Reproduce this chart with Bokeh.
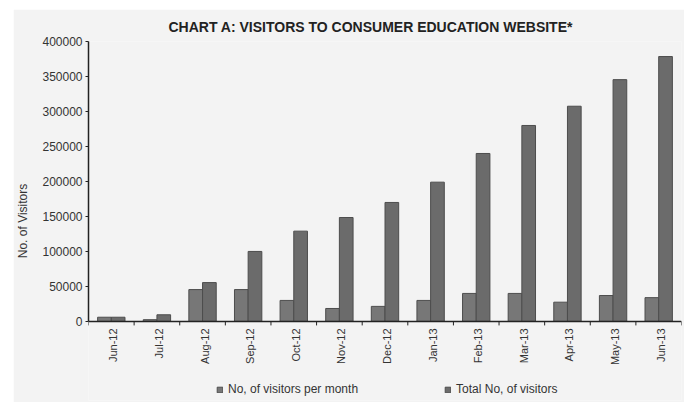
import math
from bokeh.plotting import figure
from bokeh.models import (ColumnDataSource, Range1d, FixedTicker, Legend, LegendItem,
                          NumeralTickFormatter)
from bokeh.core.properties import value
from bokeh.embed import file_html
from bokeh.resources import INLINE

months = ["Jun-12", "Jul-12", "Aug-12", "Sep-12", "Oct-12", "Nov-12", "Dec-12",
          "Jan-13", "Feb-13", "Mar-13", "Apr-13", "May-13", "Jun-13"]
per_month = [6000, 2500, 45500, 45500, 30000, 18500, 21500,
             30000, 40000, 40000, 27500, 37000, 34000]
total = [6000, 9500, 55500, 100000, 129000, 148500, 170000,
         199000, 240000, 280000, 307500, 345500, 378500]
y_ticks = [0, 50000, 100000, 150000, 200000, 250000, 300000, 350000, 400000]

TITLE = "CHART A: VISITORS TO  CONSUMER EDUCATION WEBSITE*"
FONT = "Liberation Sans"
BG = "#f3f3f3"
AX = "#222222"
TXT = "#333333"

n = len(months)
centers = [i + 0.5 for i in range(n)]
edges = list(range(n + 1))
Y_MAX = 400000
Y_MIN = -113000       # room below zero for month labels and legend
TICK = 5700           # boundary tick length in y units (~4px)

src = ColumnDataSource(dict(
    month=months, per_month=per_month, total=total, xc=centers,
    x1=[c - 0.15 for c in centers], x2=[c + 0.15 for c in centers]))
edge_src = ColumnDataSource(dict(x=edges, y0=[0] * len(edges), y1=[-TICK] * len(edges)))

p = figure(x_range=Range1d(0, n), y_range=Range1d(Y_MIN, Y_MAX),
           width=671, height=393, output_backend="svg", toolbar_location=None,
           min_border_left=75, min_border_right=3, min_border_top=32,
           min_border_bottom=2, background_fill_color=BG, border_fill_color=BG,
           outline_line_color=None)
p.margin = (9, 0, 0, 13)

p.title.text = TITLE
p.title.text_font = FONT
p.title.text_font_size = "14px"
p.title.text_font_style = "bold"
p.title.text_color = "#222222"
p.title.align = "left"
p.title.offset = 80
p.title.standoff = 14

r1 = p.vbar(x="x1", top="per_month", bottom=0, width=0.3, source=src,
            fill_color="#777777", line_color="#4d4d4d", line_width=1)
r2 = p.vbar(x="x2", top="total", bottom=0, width=0.3, source=src,
            fill_color="#6b6b6b", line_color="#4d4d4d", line_width=1)

# x axis line at zero, boundary ticks, month labels
p.segment(x0=0, y0=0, x1=n, y1=0, line_color=AX, line_width=1.5)
p.segment(x0="x", y0="y0", x1="x", y1="y1", source=edge_src, line_color=AX, line_width=1)
p.text(x="xc", y=0, text="month", source=src, angle=math.pi / 2, y_offset=7,
       x_offset=2, text_align="right", text_baseline="middle",
       text_font=value(FONT), text_font_size="11px", text_color=TXT)

p.xaxis.visible = False
p.xgrid.visible = False
p.ygrid.visible = False

# y axis
ya = p.yaxis[0]
ya.bounds = (0, Y_MAX)
ya.ticker = FixedTicker(ticks=y_ticks)
ya.formatter = NumeralTickFormatter(format="0")
ya.axis_label = "No. of Visitors"
ya.axis_label_text_font = FONT
ya.axis_label_text_font_size = "12px"
ya.axis_label_text_font_style = "normal"
ya.axis_label_text_color = TXT
ya.axis_label_standoff = 9
ya.major_label_text_font = FONT
ya.major_label_text_font_size = "12px"
ya.major_label_text_color = TXT
ya.major_label_standoff = 3
ya.major_tick_in = 0
ya.major_tick_out = 3
ya.minor_tick_line_color = None
ya.axis_line_color = AX
ya.axis_line_width = 1.5
ya.major_tick_line_color = AX

legend = Legend(items=[LegendItem(label="No, of visitors per month", renderers=[r1]),
                       LegendItem(label="Total No, of visitors", renderers=[r2])],
                location=(128, 4), orientation="horizontal",
                glyph_width=7, glyph_height=7, label_standoff=5, spacing=86,
                padding=0, margin=0, border_line_color=None,
                background_fill_alpha=0,
                label_text_font=FONT, label_text_font_size="12px",
                label_text_color=TXT)
p.add_layout(legend)

open("out.html", "w").write(file_html(p, INLINE))
